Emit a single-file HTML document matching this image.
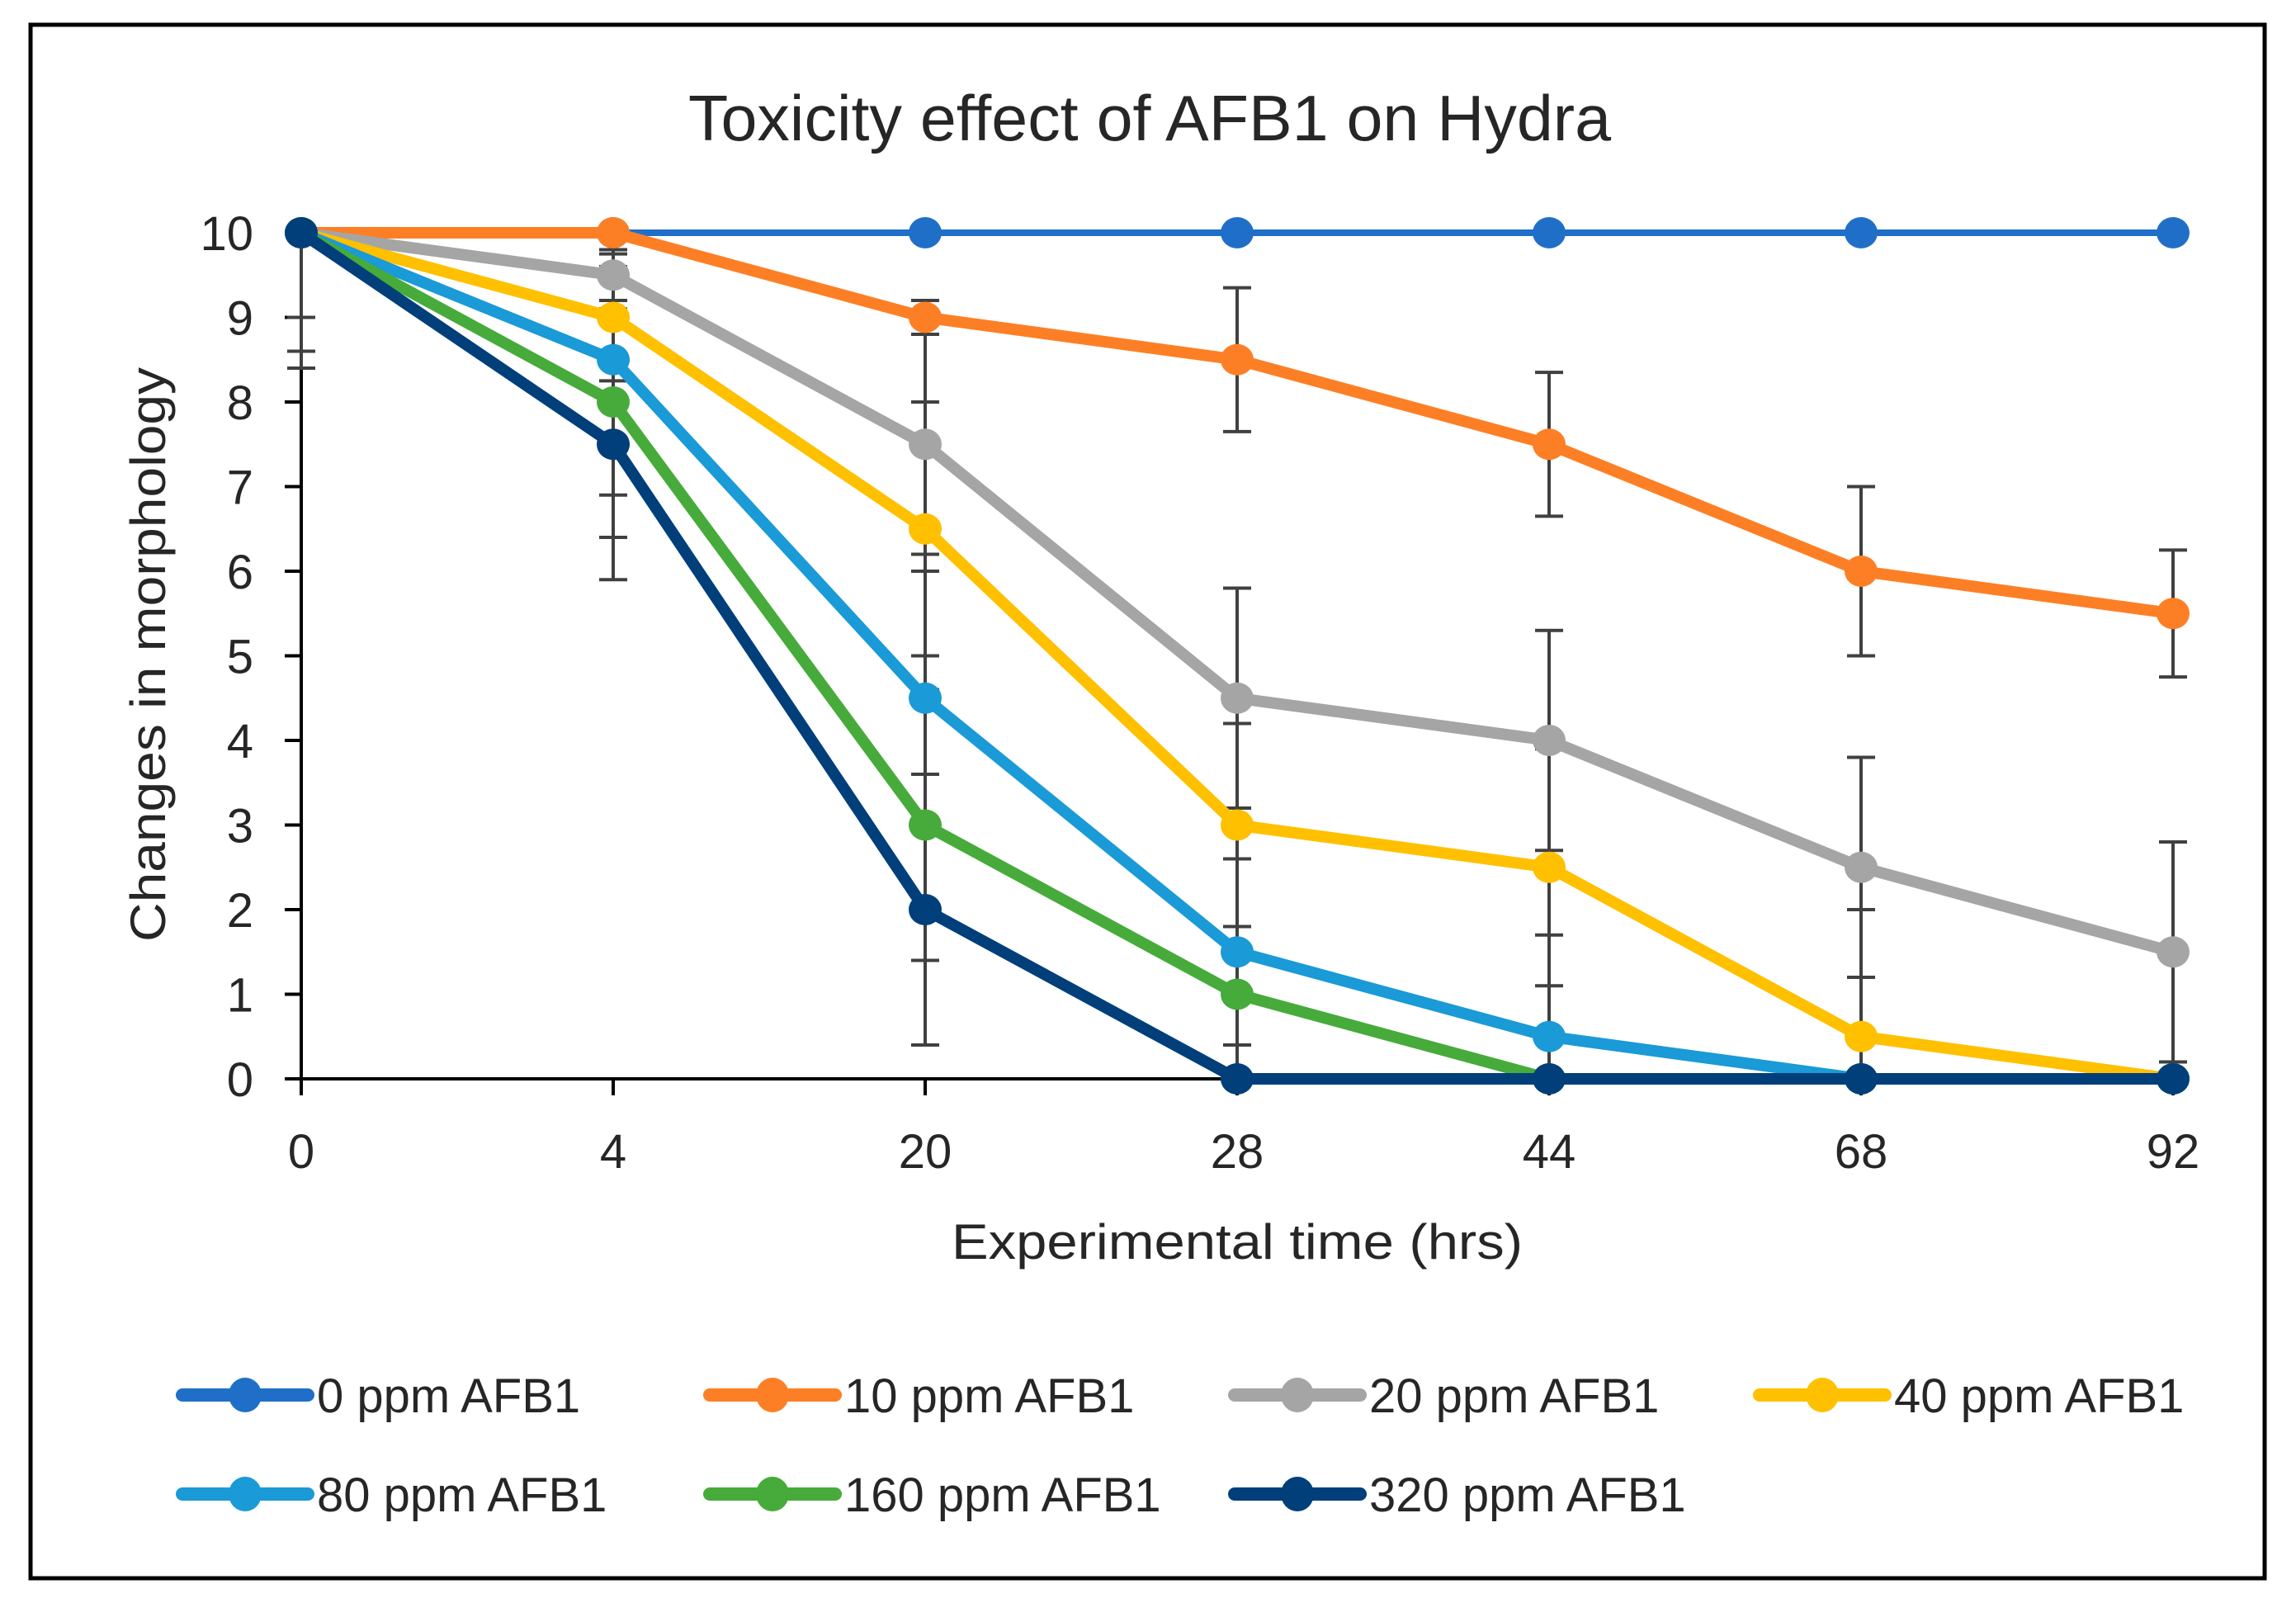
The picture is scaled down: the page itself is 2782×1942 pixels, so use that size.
<!DOCTYPE html>
<html><head><meta charset="utf-8"><style>
html,body{margin:0;padding:0;background:#fff;}
svg{display:block;}
text{font-family:"Liberation Sans",sans-serif;fill:#262626;}
</style></head><body>
<svg id="chart" width="2782" height="1942" viewBox="0 0 2782 1942">
<rect x="0" y="0" width="2782" height="1942" fill="#fff"/>
<rect x="37" y="30" width="2707" height="1882" fill="none" stroke="#000" stroke-width="5"/>
<text x="1393" y="170" font-size="78" text-anchor="middle" fill="#000" textLength="1118" lengthAdjust="spacingAndGlyphs">Toxicity effect of AFB1 on Hydra</text>
<g id="axes"></g>
<g id="errs"></g>
<g id="series"></g>
<text x="1499" y="1525" font-size="60" text-anchor="middle" textLength="692" lengthAdjust="spacingAndGlyphs">Experimental time (hrs)</text>
<text transform="translate(200,793) rotate(-90)" x="0" y="0" font-size="60" text-anchor="middle" textLength="696" lengthAdjust="spacingAndGlyphs">Changes in morphology</text>
<g id="legend"></g>
</svg>
<script>
const categories = ["0","4","20","28","44","68","92"];
const yTicks = [0,1,2,3,4,5,6,7,8,9,10];
const seriesNames = ["0 ppm AFB1","10 ppm AFB1","20 ppm AFB1","40 ppm AFB1","80 ppm AFB1","160 ppm AFB1","320 ppm AFB1"];
const s0 = [10,10,10,10,10,10,10];
const s10 = [10,10,9,8.5,7.5,6,5.5];
const s20 = [10,9.5,7.5,4.5,4,2.5,1.5];
const s40 = [10,9,6.5,3,2.5,0.5,0];
const s80 = [10,8.5,4.5,1.5,0.5,0,0];
const s160 = [10,8,3,1,0,0,0];
const s320 = [10,7.5,2,0,0,0,0];
const e0 = [0,0,0,0,0,0,0];
const e10 = [0,0,0.2,0.85,0.85,1,0.75];
const e20 = [0,0.3,1.3,1.3,1.3,1.3,1.3];
const e40 = [1.0,0.75,1.5,1.2,1.4,1.5,0.2];
const e80 = [1.4,1.6,1.5,1.1,1.2,0,0];
const e160 = [1.6,1.6,1.6,1.6,0,0,0];
const e320 = [1.6,1.6,1.6,0,0,0,0];

const values = [s0,s10,s20,s40,s80,s160,s320];
const errors = [e0,e10,e20,e40,e80,e160,e320];
const colors = ["#1f6fc9","#fd7f25","#a5a5a5","#ffc000","#1a9ad6","#46ab3a","#003f7a"];
const widths = [8,14,14,14,14,14,14];
const NS="http://www.w3.org/2000/svg";
const X0=365, DX=378, Y0=1307, DY=102.5;
const xs = i => X0 + i*DX;
const ys = v => Y0 - v*DY;
function mk(tag, attrs, parent){const e=document.createElementNS(NS,tag);for(const k in attrs)e.setAttribute(k,attrs[k]);parent.appendChild(e);return e;}
const axes=document.getElementById('axes');
let el;
el=mk('line',{x1:X0,y1:ys(10),x2:X0,y2:Y0,stroke:'#000','stroke-width':4},axes);


el=mk('line',{x1:X0-20,y1:Y0,x2:xs(6),y2:Y0,stroke:'#000','stroke-width':4},axes);


yTicks.forEach(t=>{
  el=mk('line',{x1:X0-20,y1:ys(t),x2:X0,y2:ys(t),stroke:'#000','stroke-width':4},axes);
  
  
  el=mk('text',{x:X0-58,y:ys(t)+21,'font-size':58,'text-anchor':'end'},axes);
  el.textContent=t;
  
  
});
categories.forEach((c,i)=>{
  el=mk('line',{x1:xs(i),y1:Y0,x2:xs(i),y2:Y0+20,stroke:'#000','stroke-width':4},axes);
  
  
  el=mk('text',{x:xs(i),y:1415,'font-size':58,'text-anchor':'middle'},axes);
  el.textContent=c;
  
  
});
const errs=document.getElementById('errs');
values.forEach((arr,s)=>{
  arr.forEach((v,i)=>{
    const e=errors[s][i]; if(!e) return;
    const hi=Math.min(10,v+e), lo=Math.max(0,v-e);
    const g=mk('g',{stroke:'#404040','stroke-width':4},errs);
    
    
    mk('line',{x1:xs(i),y1:ys(hi),x2:xs(i),y2:ys(lo)},g);
    if(v+e<=10) mk('line',{x1:xs(i)-17,y1:ys(hi),x2:xs(i)+17,y2:ys(hi)},g);
    if(v-e>=0) mk('line',{x1:xs(i)-17,y1:ys(lo),x2:xs(i)+17,y2:ys(lo)},g);
  });
});
const ser=document.getElementById('series');
values.forEach((arr,s)=>{
  const g=mk('g',{},ser);
  
  
  const pts=arr.map((v,i)=>xs(i)+','+ys(v)).join(' ');
  el=mk('polyline',{points:pts,fill:'none',stroke:colors[s],'stroke-width':widths[s],'stroke-linejoin':'round'},g);
  
  
  arr.forEach((v,i)=>{
    el=mk('ellipse',{cx:xs(i),cy:ys(v),rx:20,ry:19,fill:colors[s]},g);
    
    
  });
});
const leg=document.getElementById('legend');
const legX=[221,860,1496,2132], legY=[1690,1810];
seriesNames.forEach((n,s)=>{
  const x=legX[s%4], y=legY[Math.floor(s/4)];
  const g=mk('g',{},leg);
  
  
  mk('line',{x1:x,y1:y,x2:x+152,y2:y,stroke:colors[s],'stroke-width':16,'stroke-linecap':'round'},g);
  mk('ellipse',{cx:x+76,cy:y,rx:20,ry:21,fill:colors[s]},g);
  el=mk('text',{x:x+163,y:y+21,'font-size':58,fill:'#000'},g);
  el.textContent=n;
  
  
});
</script>
</body></html>
